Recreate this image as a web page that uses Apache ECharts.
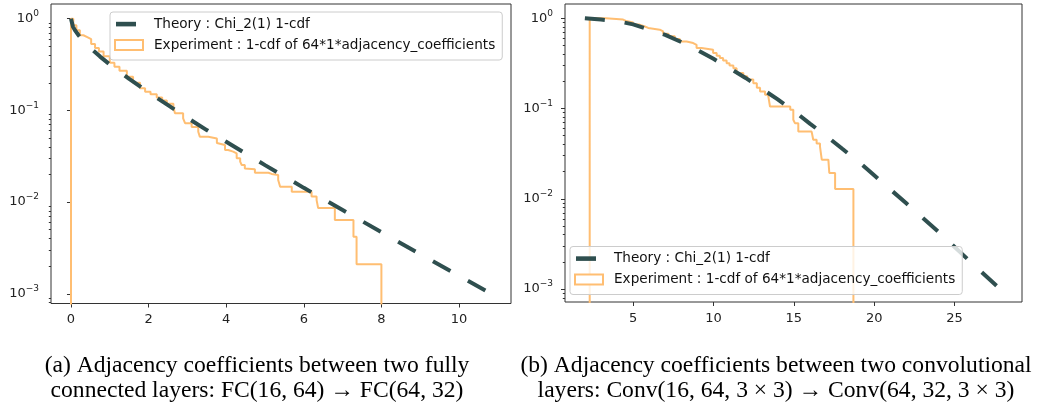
<!DOCTYPE html>
<html><head><meta charset="utf-8">
<script src="https://cdn.jsdelivr.net/npm/echarts@6/dist/echarts.min.js"></script>
<style>html,body{margin:0;padding:0;background:#fff}#c{width:1038px;height:404px}</style>
</head><body><div id="c"></div>
<script>
// ---------- Panel (a): FC(16,64) -> FC(64,32) ----------
const aTheoryX = [0, 0.05, 0.1, 0.2, 0.3, 0.5, 0.75, 1, 1.5, 2, 2.5, 3, 3.5, 4, 5, 6, 7, 8, 9, 10, 10.83];
const aTheoryY = [1.0, 0.82, 0.75, 0.655, 0.584, 0.48, 0.386, 0.317, 0.221, 0.157, 0.114, 0.083, 0.061, 0.0455, 0.0253, 0.0143, 0.0082, 0.0047, 0.0027, 0.00157, 0.001];
const aExpX = [0, 0, 0.06, 0.14, 0.23, 0.32, 0.42, 0.52, 0.62, 0.72, 0.84, 1.0, 1.12, 1.25, 1.44, 1.6, 1.78, 1.91, 2.05, 2.21, 2.35, 2.47, 2.64, 2.68, 2.89, 2.94, 3.11, 3.28, 3.32, 3.54, 3.76, 3.80, 3.97, 4.05, 4.18, 4.27, 4.36, 4.40, 4.48, 4.53, 4.74, 5.09, 5.17, 5.34, 5.39, 5.69, 6.20, 6.33, 6.37, 6.80, 7.28, 7.36, 8.0];
const aExpY = [0.00001, 1.0, 0.85, 0.75, 0.66, 0.63, 0.60, 0.53, 0.48, 0.44, 0.39, 0.33, 0.30, 0.27, 0.233, 0.2, 0.174, 0.16, 0.15, 0.138, 0.128, 0.118, 0.108, 0.093, 0.082, 0.0725, 0.066, 0.0586, 0.0517, 0.0495, 0.044, 0.042, 0.037, 0.0355, 0.034, 0.030, 0.0276, 0.0254, 0.0233, 0.0228, 0.0209, 0.0203, 0.0198, 0.0174, 0.0147, 0.0130, 0.0115, 0.0105, 0.0086, 0.0064, 0.0042, 0.0021, 0.00001];
const aXTicks = [0, 2, 4, 6, 8, 10];
const aXRange = [-0.515, 11.34];
const aYRange = [0.000784, 1.446];

// ---------- Panel (b): Conv(16,64,3x3) -> Conv(64,32,3x3) ----------
const bTheoryX = [2.0, 3.0, 4.0, 5.0, 6.0, 7.0, 8.0, 9.0, 10.0, 11.0, 12.0, 13.0, 14.0, 15.0, 16.0, 17.0, 18.0, 19.0, 20.0, 22.0, 24.0, 26.0, 27.9];
const bTheoryY = [1.0, 0.965, 0.93, 0.855, 0.75, 0.655, 0.545, 0.445, 0.355, 0.28, 0.218, 0.166, 0.126, 0.094, 0.068, 0.050, 0.036, 0.026, 0.0182, 0.0089, 0.0043, 0.0020, 0.00098];
const bExpX = [2.30, 2.30, 3.3, 4.38, 4.59, 5.0, 5.4, 5.73, 5.94, 6.66, 6.87, 7.2, 7.6, 7.91, 8.33, 8.74, 8.95, 9.26, 9.98, 10.2, 10.40, 10.6, 10.82, 11.0, 11.24, 11.44, 11.86, 12.1, 12.48, 12.7, 12.90, 13.21, 13.40, 13.52, 14.78, 14.97, 15.07, 15.28, 16.11, 16.21, 16.42, 16.63, 16.74, 17.15, 17.21, 17.57, 18.71];
const bExpY = [0.00001, 1.0, 0.965, 0.93, 0.898, 0.85, 0.81, 0.78, 0.746, 0.714, 0.673, 0.63, 0.59, 0.553, 0.531, 0.508, 0.468, 0.448, 0.411, 0.385, 0.362, 0.34, 0.318, 0.30, 0.280, 0.247, 0.227, 0.21, 0.191, 0.17, 0.154, 0.142, 0.136, 0.105, 0.0968, 0.075, 0.0688, 0.0555, 0.0534, 0.045, 0.041, 0.0378, 0.0271, 0.026, 0.0193, 0.0128, 0.00001];
const bXTicks = [5, 10, 15, 20, 25];
const bXRange = [0.763, 29.2];
const bYRange = [0.000719, 1.437];

// ---------- shared ticks / labels ----------
const yTickValues = [1, 0.1, 0.01, 0.001];
const yTickExp = ['0', '\u22121', '\u22122', '\u22123'];
const yMinorTicks = [0.0008, 0.0009, 0.002, 0.003, 0.004, 0.005, 0.006, 0.007, 0.008, 0.009,
  0.02, 0.03, 0.04, 0.05, 0.06, 0.07, 0.08, 0.09, 0.2, 0.3, 0.4, 0.5, 0.6, 0.7, 0.8, 0.9];
const nameTheory = 'Theory : Chi_2(1) 1-cdf';
const nameExp = 'Experiment : 1-cdf of 64*1*adjacency_coefficients';
const captionA = '(a) Adjacency coefficients between two fully\nconnected layers: FC(16, 64) \u2192 FC(64, 32)';
const captionB = '(b) Adjacency coefficients between two convolutional\nlayers: Conv(16, 64, 3 \u00d7 3) \u2192 Conv(64, 32, 3 \u00d7 3)';

const zip = (xs, ys) => xs.map((x, i) => [x, ys[i]]);
const C_THEORY = '#2f4f4f';
const C_EXP = '#ffbe72';
const AX = '#333333';
const FONT = 'DejaVu Sans';

function yLabel(v) {
  for (let i = 0; i < yTickValues.length; i++) {
    if (Math.abs(Math.log10(v) - Math.log10(yTickValues[i])) < 1e-6) return '{b|10}{s|' + yTickExp[i] + '}';
  }
  return '';
}
const yRich = {
  b: { fontSize: 13, fontFamily: FONT, color: '#222', lineHeight: 19, verticalAlign: 'middle' },
  s: { fontSize: 9, fontFamily: FONT, color: '#222', lineHeight: 10, verticalAlign: 'top' }
};

function xAxisOf(grid, range, ticks) {
  return {
    gridIndex: grid, type: 'value', min: range[0], max: range[1],
    axisLine: { show: false }, splitLine: { show: false },
    axisTick: { show: true, length: 4, lineStyle: { color: AX }, customValues: ticks },
    axisLabel: { customValues: ticks, margin: 10, fontSize: 13, fontFamily: FONT, color: '#222' }
  };
}
function yAxesOf(grid, range) {
  return [{
    gridIndex: grid, type: 'log', logBase: 10, min: range[0], max: range[1], position: 'left',
    axisLine: { show: false }, splitLine: { show: false },
    axisTick: { show: true, length: 4, lineStyle: { color: AX }, customValues: yTickValues },
    axisLabel: { customValues: yTickValues, margin: 12, formatter: yLabel, rich: yRich }
  }, {
    gridIndex: grid, type: 'log', logBase: 10, min: range[0], max: range[1], position: 'left', offset: 0,
    axisLine: { show: false }, splitLine: { show: false },
    axisTick: { show: true, length: 2.2, lineStyle: { color: AX }, customValues: yMinorTicks },
    axisLabel: { show: false }
  }];
}
const theoryIcon = 'path://M0,0M28,10M1,2.8L21,2.8L21,7.4L1,7.4Z';
function legendOf(left, top) {
  return {
    orient: 'vertical', left: left, top: top, padding: [5, 7, 8, 4], itemGap: 7,
    itemWidth: 28, itemHeight: 10, z: 20,
    backgroundColor: 'rgba(255,255,255,0.8)', borderColor: '#cccccc', borderWidth: 1, borderRadius: 3,
    textStyle: { fontSize: 13.6, fontFamily: FONT, color: '#111', padding: [0, 0, 0, 6] },
    selectedMode: false,
    data: [
      { name: nameTheory, icon: theoryIcon, itemStyle: { color: C_THEORY, borderWidth: 0 } },
      { name: nameExp, icon: 'emptyRect', itemStyle: { color: C_EXP } }
    ]
  };
}
function seriesOf(xi, yi, tx, ty, ex, ey) {
  return [{
    name: nameTheory, type: 'line', xAxisIndex: xi, yAxisIndex: yi, data: zip(tx, ty),
    showSymbol: false, symbol: 'none', z: 2, silent: true, animation: false,
    itemStyle: { color: C_THEORY },
    lineStyle: { color: C_THEORY, width: 4, type: [20, 20], cap: 'butt' }
  }, {
    name: nameExp, type: 'line', xAxisIndex: xi, yAxisIndex: yi, data: zip(ex, ey), step: 'end',
    showSymbol: false, symbol: 'none', z: 1, silent: true, animation: false, clip: true,
    itemStyle: { color: C_EXP },
    lineStyle: { color: C_EXP, width: 2 }
  }];
}

const chart = echarts.init(document.getElementById('c'), null, { renderer: 'canvas' });
chart.setOption({
  animation: false,
  backgroundColor: '#ffffff',
  grid: [
    { left: 51, top: 4, width: 460, height: 299.5, show: true, borderColor: AX, borderWidth: 1, backgroundColor: 'transparent' },
    { left: 565, top: 4, width: 457, height: 298, show: true, borderColor: AX, borderWidth: 1, backgroundColor: 'transparent' }
  ],
  xAxis: [xAxisOf(0, aXRange, aXTicks), xAxisOf(1, bXRange, bXTicks)],
  yAxis: [...yAxesOf(0, aYRange), ...yAxesOf(1, bYRange)],
  legend: [legendOf(110, 12), legendOf(570, 246.5)],
  series: [
    ...seriesOf(0, 0, aTheoryX, aTheoryY, aExpX, aExpY),
    ...seriesOf(1, 2, bTheoryX, bTheoryY, bExpX, bExpY)
  ],
  graphic: [
    { type: 'text', x: 257, y: 353, silent: true,
      style: { text: captionA, align: 'center', verticalAlign: 'top', font: '23.6px "Liberation Serif"', lineHeight: 25, fill: '#000' } },
    { type: 'text', x: 776, y: 353, silent: true,
      style: { text: captionB, align: 'center', verticalAlign: 'top', font: '23.6px "Liberation Serif"', lineHeight: 25, fill: '#000' } }
  ]
});
</script>
</body></html>
